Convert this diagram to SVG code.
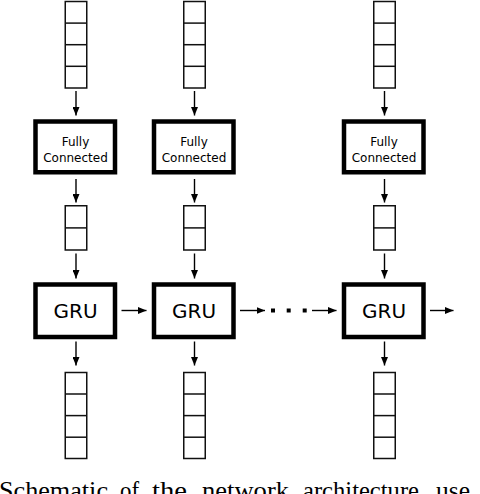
<svg xmlns="http://www.w3.org/2000/svg" width="480" height="494" viewBox="0 0 480 494">
<style>
.cell{fill:#fff;stroke:#111;stroke-width:1.5}
.div{stroke:#111;stroke-width:1.5}
.box{fill:#fff;stroke:#000;stroke-width:4.5}
.fc{font-family:"DejaVu Sans",sans-serif;font-size:12px;fill:#000;text-anchor:middle}
.gru{font-family:"DejaVu Sans",sans-serif;font-size:20px;fill:#000;text-anchor:middle}
.arr{stroke:#000;stroke-width:1.4;fill:none;marker-end:url(#ah)}
.cap{font-family:"Liberation Serif","Times New Roman",serif;font-size:25.5px;fill:#000}
</style>
<defs>
<marker id="ah" markerUnits="userSpaceOnUse" markerWidth="9" markerHeight="7" refX="8.5" refY="3.5" orient="auto">
<path d="M0,0 L8.5,3.5 L0,7 z" fill="#000"/>
</marker>
</defs>

<!-- column 1 -->
<g id="input1" transform="translate(76,0)">
<rect class="cell" x="-10.75" y="1.5" width="21.5" height="86.5"/>
<line class="div" x1="-10.75" y1="23.1" x2="10.75" y2="23.1"/>
<line class="div" x1="-10.75" y1="44.7" x2="10.75" y2="44.7"/>
<line class="div" x1="-10.75" y1="66.3" x2="10.75" y2="66.3"/>
</g>
<g id="fc1" transform="translate(76,0)">
<rect class="box" x="-40.5" y="121.5" width="79.5" height="50.75"/>
<text class="fc" x="-0.5" y="146">Fully</text>
<text class="fc" x="-0.5" y="161.5">Connected</text>
</g>
<g id="mid1" transform="translate(76,0)">
<rect class="cell" x="-10.75" y="205.75" width="21.5" height="44.25"/>
<line class="div" x1="-10.75" y1="227.9" x2="10.75" y2="227.9"/>
</g>
<g id="gru1" transform="translate(76,0)">
<rect class="box" x="-40.5" y="284.5" width="79.5" height="52.5"/>
<text class="gru" x="-0.5" y="318.3">GRU</text>
</g>
<g id="out1" transform="translate(76,0)">
<rect class="cell" x="-10.75" y="372.5" width="21.5" height="86"/>
<line class="div" x1="-10.75" y1="394" x2="10.75" y2="394"/>
<line class="div" x1="-10.75" y1="415.6" x2="10.75" y2="415.6"/>
<line class="div" x1="-10.75" y1="437.2" x2="10.75" y2="437.2"/>
</g>

<!-- column 2 -->
<g id="input2" transform="translate(194.5,0)">
<rect class="cell" x="-10.75" y="1.5" width="21.5" height="86.5"/>
<line class="div" x1="-10.75" y1="23.1" x2="10.75" y2="23.1"/>
<line class="div" x1="-10.75" y1="44.7" x2="10.75" y2="44.7"/>
<line class="div" x1="-10.75" y1="66.3" x2="10.75" y2="66.3"/>
</g>
<g id="fc2" transform="translate(194.5,0)">
<rect class="box" x="-40.5" y="121.5" width="79.5" height="50.75"/>
<text class="fc" x="-0.5" y="146">Fully</text>
<text class="fc" x="-0.5" y="161.5">Connected</text>
</g>
<g id="mid2" transform="translate(194.5,0)">
<rect class="cell" x="-10.75" y="205.75" width="21.5" height="44.25"/>
<line class="div" x1="-10.75" y1="227.9" x2="10.75" y2="227.9"/>
</g>
<g id="gru2" transform="translate(194.5,0)">
<rect class="box" x="-40.5" y="284.5" width="79.5" height="52.5"/>
<text class="gru" x="-0.5" y="318.3">GRU</text>
</g>
<g id="out2" transform="translate(194.5,0)">
<rect class="cell" x="-10.75" y="372.5" width="21.5" height="86"/>
<line class="div" x1="-10.75" y1="394" x2="10.75" y2="394"/>
<line class="div" x1="-10.75" y1="415.6" x2="10.75" y2="415.6"/>
<line class="div" x1="-10.75" y1="437.2" x2="10.75" y2="437.2"/>
</g>

<!-- column 3 -->
<g id="input3" transform="translate(384.5,0)">
<rect class="cell" x="-10.75" y="1.5" width="21.5" height="86.5"/>
<line class="div" x1="-10.75" y1="23.1" x2="10.75" y2="23.1"/>
<line class="div" x1="-10.75" y1="44.7" x2="10.75" y2="44.7"/>
<line class="div" x1="-10.75" y1="66.3" x2="10.75" y2="66.3"/>
</g>
<g id="fc3" transform="translate(384.5,0)">
<rect class="box" x="-40.5" y="121.5" width="79.5" height="50.75"/>
<text class="fc" x="-0.5" y="146">Fully</text>
<text class="fc" x="-0.5" y="161.5">Connected</text>
</g>
<g id="mid3" transform="translate(384.5,0)">
<rect class="cell" x="-10.75" y="205.75" width="21.5" height="44.25"/>
<line class="div" x1="-10.75" y1="227.9" x2="10.75" y2="227.9"/>
</g>
<g id="gru3" transform="translate(384.5,0)">
<rect class="box" x="-40.5" y="284.5" width="79.5" height="52.5"/>
<text class="gru" x="-0.5" y="318.3">GRU</text>
</g>
<g id="out3" transform="translate(384.5,0)">
<rect class="cell" x="-10.75" y="372.5" width="21.5" height="86"/>
<line class="div" x1="-10.75" y1="394" x2="10.75" y2="394"/>
<line class="div" x1="-10.75" y1="415.6" x2="10.75" y2="415.6"/>
<line class="div" x1="-10.75" y1="437.2" x2="10.75" y2="437.2"/>
</g>

<!-- connectors -->
<g id="connectors">
<line class="arr" x1="76" y1="91" x2="76" y2="115.5"/>
<line class="arr" x1="76" y1="179" x2="76" y2="202.5"/>
<line class="arr" x1="76" y1="253.5" x2="76" y2="278.5"/>
<line class="arr" x1="76" y1="341.5" x2="76" y2="365.5"/>
<line class="arr" x1="194.5" y1="91" x2="194.5" y2="115.5"/>
<line class="arr" x1="194.5" y1="179" x2="194.5" y2="202.5"/>
<line class="arr" x1="194.5" y1="253.5" x2="194.5" y2="278.5"/>
<line class="arr" x1="194.5" y1="341.5" x2="194.5" y2="365.5"/>
<line class="arr" x1="384.5" y1="91" x2="384.5" y2="115.5"/>
<line class="arr" x1="384.5" y1="179" x2="384.5" y2="202.5"/>
<line class="arr" x1="384.5" y1="253.5" x2="384.5" y2="278.5"/>
<line class="arr" x1="384.5" y1="341.5" x2="384.5" y2="365.5"/>
<line class="arr" x1="121.5" y1="310.5" x2="146.5" y2="310.5"/>
<line class="arr" x1="240" y1="310.5" x2="265" y2="310.5"/>
<rect x="271" y="308.5" width="4" height="4" fill="#000"/>
<rect x="286.7" y="308.5" width="4" height="4" fill="#000"/>
<rect x="302.7" y="308.5" width="4" height="4" fill="#000"/>
<line class="arr" x1="312" y1="310.5" x2="336.5" y2="310.5"/>
<line class="arr" x1="430" y1="310.5" x2="453.5" y2="310.5"/>
</g>

<text class="cap" y="499"><tspan x="-1" textLength="109" lengthAdjust="spacingAndGlyphs">Schematic</tspan><tspan x="120" textLength="19" lengthAdjust="spacingAndGlyphs">of</tspan><tspan x="152" textLength="35" lengthAdjust="spacingAndGlyphs">the</tspan><tspan x="202" textLength="87" lengthAdjust="spacingAndGlyphs">network</tspan><tspan x="303" textLength="116" lengthAdjust="spacingAndGlyphs">architecture</tspan><tspan x="436">use</tspan></text>
</svg>
